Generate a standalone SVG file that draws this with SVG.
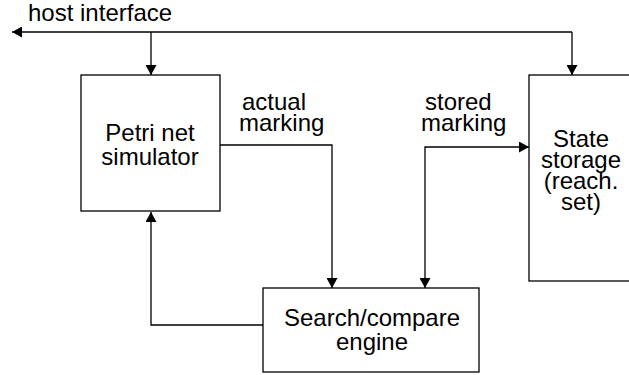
<svg xmlns="http://www.w3.org/2000/svg" width="629" height="375" viewBox="0 0 629 375">
  <style>
    .box { fill: #fff; stroke: #000; stroke-width: 1.3; }
    .wire { fill: none; stroke: #000; stroke-width: 1.3; }
    text { font-family: "Liberation Sans", Arial, sans-serif; font-size: 24px; fill: #000; }
    .c { text-anchor: middle; }
  </style>
  <defs>
    <marker id="arrow" markerUnits="userSpaceOnUse" markerWidth="11" markerHeight="11" refX="10" refY="5.5" orient="auto-start-reverse">
      <path d="M0,0 L10,5.5 L0,11 Z" fill="#000"/>
    </marker>
  </defs>

  <g id="connectors">
    <!-- host interface bus -->
    <path class="wire" d="M572,32 L12,32" marker-end="url(#arrow)"/>
    <path class="wire" d="M151,32 L151,75" marker-end="url(#arrow)"/>
    <path class="wire" d="M572,32 L572,75" marker-end="url(#arrow)"/>
    <!-- actual marking -->
    <path class="wire" d="M220,145 L332,145 L332,288" marker-end="url(#arrow)"/>
    <!-- stored marking (bidirectional) -->
    <path class="wire" d="M529,147 L425,147 L425,288" marker-start="url(#arrow)" marker-end="url(#arrow)"/>
    <!-- feedback to simulator -->
    <path class="wire" d="M263,325 L151,325 L151,212" marker-end="url(#arrow)"/>
  </g>

  <g id="host-label">
    <text x="28" y="21">host interface</text>
  </g>

  <g id="petri-net-simulator">
    <rect class="box" x="81" y="75" width="139" height="136"/>
    <text class="c" x="150" y="141">Petri net</text>
    <text class="c" x="150" y="165">simulator</text>
  </g>

  <g id="actual-marking-label">
    <text x="242" y="110">actual</text>
    <text x="239" y="131">marking</text>
  </g>

  <g id="stored-marking-label">
    <text x="425" y="110">stored</text>
    <text x="421" y="131">marking</text>
  </g>

  <g id="state-storage">
    <rect class="box" x="529" y="75" width="110" height="206"/>
    <text class="c" x="581" y="147">State</text>
    <text class="c" x="581" y="168">storage</text>
    <text class="c" x="581" y="189">(reach.</text>
    <text class="c" x="581" y="210">set)</text>
  </g>

  <g id="search-compare-engine">
    <rect class="box" x="263" y="288" width="216" height="84"/>
    <text class="c" x="372" y="326">Search/compare</text>
    <text class="c" x="372" y="350">engine</text>
  </g>
</svg>
